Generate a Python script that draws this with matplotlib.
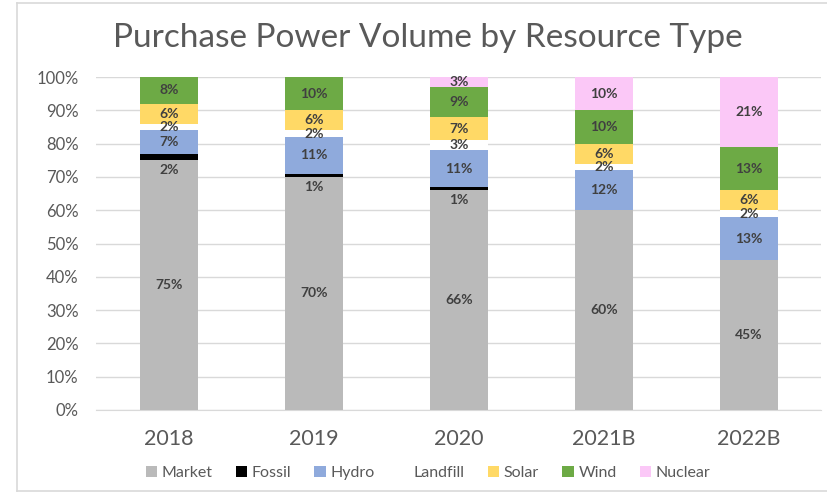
import matplotlib
matplotlib.use("Agg")
import matplotlib.pyplot as plt
from matplotlib.patches import Patch
from matplotlib.lines import Line2D
import numpy as np

plt.rcParams['font.family'] = ['Lato', 'DejaVu Sans']

categories = ["2018", "2019", "2020", "2021B", "2022B"]
series_names = ["Market", "Fossil", "Hydro", "Landfill", "Solar", "Wind", "Nuclear"]
market = [75, 70, 66, 60, 45]
fossil = [2, 1, 1, 0, 0]
hydro = [7, 11, 11, 12, 13]
landfill = [2, 2, 3, 2, 2]
solar = [6, 6, 7, 6, 6]
wind = [8, 10, 9, 10, 13]
nuclear = [0, 0, 3, 10, 21]
yticks = [0, 10, 20, 30, 40, 50, 60, 70, 80, 90, 100]

series = [market, fossil, hydro, landfill, solar, wind, nuclear]
colors = ["#BABABA", "#000000", "#8FAADC", "#FFFFFF", "#FFD966", "#6DAA45", "#FBC8F7"]

fig = plt.figure(figsize=(8.28, 4.93), dpi=100)
ax = fig.add_axes([96.5/828, 1 - 410/493, 725/828, 333/493])

x = np.arange(len(categories))
bottom = np.zeros(len(categories))
for name, vals, col in zip(series_names, series, colors):
    v = np.array(vals, dtype=float)
    ax.bar(x, v, width=0.4, bottom=bottom, color=col, label=name, zorder=3)
    for i in range(len(categories)):
        if v[i] <= 0:
            continue
        if name == "Fossil":
            ypos = bottom[i] - 3
        else:
            ypos = bottom[i] + v[i] / 2
        ax.text(x[i], ypos, f"{int(v[i])}%", ha="center", va="center",
                fontsize=10, fontweight="bold", color="#404040", zorder=4)
    bottom += v

ax.set_xlim(-0.5, len(categories) - 0.5)
ax.set_ylim(0, 100)
ax.set_yticks(yticks)
ax.set_yticklabels([f"{t}%" for t in yticks], fontsize=12, color="#595959")
ax.set_xticks(x)
ax.set_xticklabels(categories, fontsize=15.5, color="#595959")
ax.tick_params(axis="both", length=0)
ax.tick_params(axis="x", pad=14)
ax.tick_params(axis="y", pad=13)
ax.yaxis.grid(True, color="#D9D9D9", linewidth=1, zorder=0)
for s in ["top", "right", "left"]:
    ax.spines[s].set_visible(False)
ax.spines["bottom"].set_color("#D9D9D9")

fig.text(428/828, 1 - 38/493, "Purchase Power Volume by Resource Type",
         ha="center", va="center", fontsize=24, color="#595959")

handles = [Patch(facecolor=c, edgecolor="none") for c in colors]
fig.legend(handles, series_names, loc="center", bbox_to_anchor=(428/828, 1 - 473/493),
           ncol=7, frameon=False, fontsize=11.5, handlelength=0.7, handleheight=0.7,
           handletextpad=0.3, columnspacing=1.45, labelcolor="#595959")

# chart frame (left, top, bottom edges)
fx0, fy0, fy1 = 17/828, 1 - 491/493, 1 - 3/493
for xs, ys in [([fx0, fx0], [fy0, fy1]), ([fx0, 1.0], [fy1, fy1]), ([fx0, 1.0], [fy0, fy0])]:
    fig.add_artist(Line2D(xs, ys, transform=fig.transFigure, color="#D9D9D9", linewidth=1.2))

fig.savefig("out.png", dpi=100)
